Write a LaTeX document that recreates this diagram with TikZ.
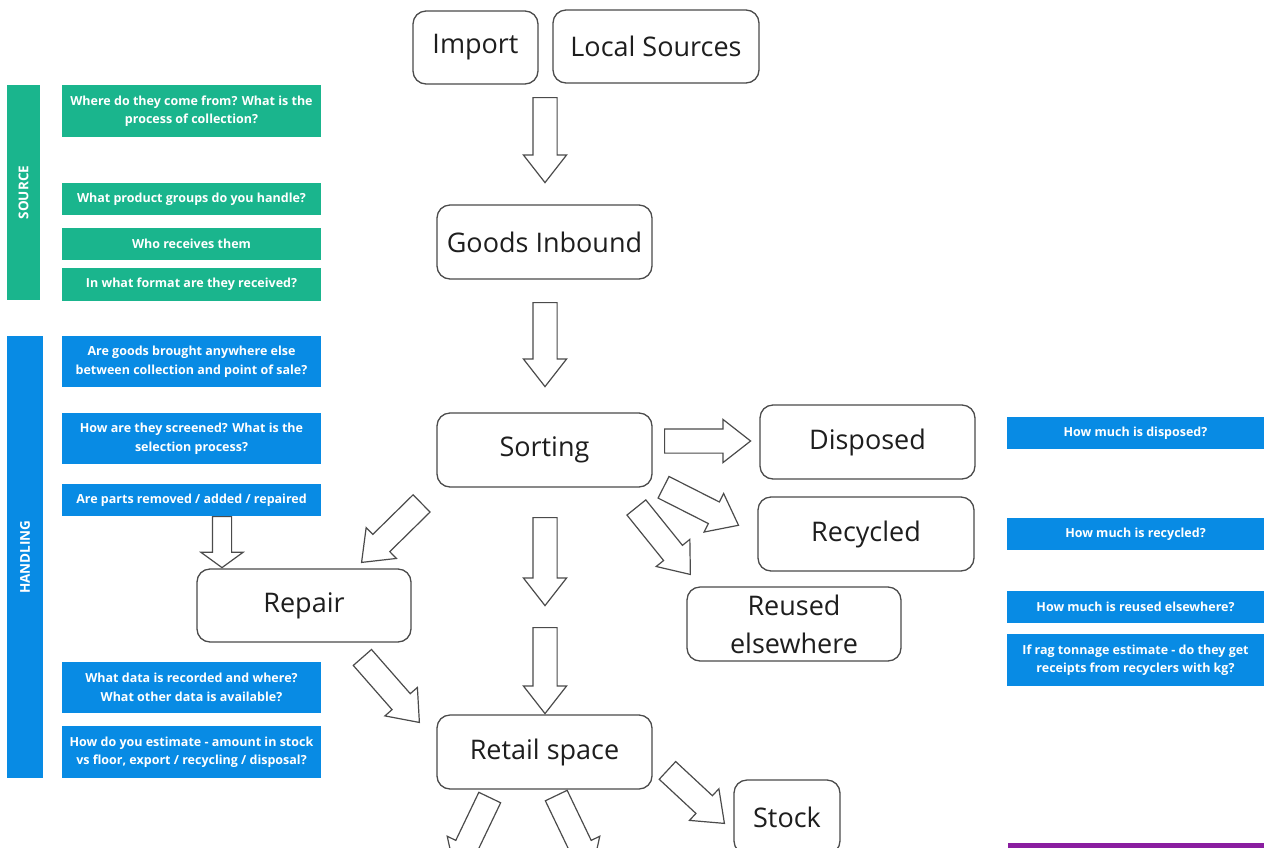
\documentclass[tikz,border=0pt]{standalone}
\usepackage{fontspec}
\setmainfont{Open Sans}
\usetikzlibrary{shapes.arrows,calc}

\definecolor{srcgreen}{RGB}{26,181,141}
\definecolor{handblue}{RGB}{8,139,228}
\definecolor{outpurple}{RGB}{138,30,160}
\definecolor{edgegray}{RGB}{75,75,75}
\definecolor{inkdark}{RGB}{30,30,30}

\tikzset{
  stage/.style={draw=edgegray, line width=1.3pt, rounded corners=13pt, fill=white,
    text=inkdark, align=center, inner sep=0pt,
    font=\fontsize{27}{38}\selectfont},
  qbox/.style={fill=#1, text=white, align=center, inner sep=0pt,
    font=\bfseries\fontsize{12.5}{18.5}\selectfont},
  sidebar/.style={fill=#1, text=white, inner sep=0pt,
    font=\bfseries\fontsize{13.5}{16}\selectfont},
  flow arrow/.style={single arrow, draw=edgegray, line width=1.2pt, fill=white,
    inner xsep=0pt, inner ysep=11.5pt, minimum width=42pt, single arrow head extend=9.5pt,
    single arrow tip angle=76, shape border uses incircle=false},
  short arrow/.style={inner ysep=9pt, minimum width=41pt, single arrow head extend=11.5pt,
    single arrow tip angle=108},
}

% hollow block arrow from one named point to another
\newcommand{\fatarrow}[3][]{%
  \path let \p1=(#2), \p2=(#3),
    \n1={atan2(\y2-\y1,\x2-\x1)}, \n2={veclen(\x2-\x1,\y2-\y1)} in
    node[flow arrow, #1, minimum height=\n2, rotate=\n1, anchor=tail] at (\p1) {};}

\begin{document}
\begin{tikzpicture}[x=1pt,y=-1pt]
\useasboundingbox (0,0) rectangle (1264,847);
\fill[white] (0,0) rectangle (1264,847);
\clip (0,0) rectangle (1264,847);

% ---- side bars ----
\node[sidebar=srcgreen, minimum width=33pt, minimum height=215pt] (src) at (23.5,192.5) {};
\node[text=white, font=\bfseries\fontsize{13.5}{16}\selectfont, rotate=90] (srclab) at (src.center) {SOURCE};
\node[sidebar=handblue, minimum width=36pt, minimum height=442pt] (hand) at (25,557) {};
\node[text=white, font=\bfseries\fontsize{13.5}{16}\selectfont, rotate=90] (handlab) at (hand.center) {HANDLING};

% ---- source questions ----
\node[qbox=srcgreen, minimum width=259pt, minimum height=52pt] (g1) at (191.5,111) {Where do they come from? What is the\\process of collection?};
\node[qbox=srcgreen, minimum width=259pt, minimum height=32pt] (g2) at (191.5,199) {What product groups do you handle?};
\node[qbox=srcgreen, minimum width=259pt, minimum height=32pt] (g3) at (191.5,244) {Who receives them};
\node[qbox=srcgreen, minimum width=259pt, minimum height=33pt] (g4) at (191.5,284.5) {In what format are they received?};

% ---- handling questions ----
\node[qbox=handblue, minimum width=259pt, minimum height=51pt] (b1) at (191.5,361.5) {Are goods brought anywhere else\\between collection and point of sale?};
\node[qbox=handblue, minimum width=259pt, minimum height=51pt] (b2) at (191.5,438.5) {How are they screened? What is the\\selection process?};
\node[qbox=handblue, minimum width=259pt, minimum height=32pt] (b3) at (191.5,500) {Are parts removed / added / repaired};
\node[qbox=handblue, minimum width=259pt, minimum height=51pt] (b4) at (191.5,687.5) {What data is recorded and where?\\What other data is available?};
\node[qbox=handblue, minimum width=259pt, minimum height=52pt] (b5) at (191.5,752) {How do you estimate - amount in stock\\vs floor, export / recycling / disposal?};

% ---- outcome questions ----
\node[qbox=handblue, minimum width=257pt, minimum height=32pt] (r1) at (1135.5,433) {How much is disposed?};
\node[qbox=handblue, minimum width=257pt, minimum height=32pt] (r2) at (1135.5,534) {How much is recycled?};
\node[qbox=handblue, minimum width=257pt, minimum height=32pt] (r3) at (1135.5,607) {How much is reused elsewhere?};
\node[qbox=handblue, minimum width=257pt, minimum height=52pt] (r4) at (1135.5,660) {If rag tonnage estimate - do they get\\receipts from recyclers with kg?};
\node[qbox=outpurple, minimum width=256pt, minimum height=30pt, anchor=north west] (p1) at (1008,843) {};

% ---- flow stages ----
\node[stage, minimum width=125pt, minimum height=73pt] (imp) at (475.5,47.5) {Import};
\node[stage, minimum width=206pt, minimum height=73pt] (loc) at (656,46.5) {Local Sources};
\node[stage, minimum width=215pt, minimum height=74pt] (inb) at (544.5,242) {Goods Inbound};
\node[stage, minimum width=215pt, minimum height=74pt] (sort) at (544.5,450) {Sorting};
\node[stage, minimum width=215pt, minimum height=74pt] (disp) at (867.5,442) {Disposed};
\node[stage, minimum width=216pt, minimum height=74pt] (recy) at (866,534) {Recycled};
\node[stage, minimum width=214pt, minimum height=74pt] (reuse) at (794,624) {Reused\\elsewhere};
\node[stage, minimum width=214pt, minimum height=73pt] (rep) at (304,605.5) {Repair};
\node[stage, minimum width=215pt, minimum height=74pt] (ret) at (544.5,752) {Retail space};
\node[stage, minimum width=106pt, minimum height=74pt] (stock) at (787,817) {Stock};

% ---- arrow end points ----
\coordinate (a1s) at (545,97);   \coordinate (a1e) at (545,182);
\coordinate (a2s) at (545,302);  \coordinate (a2e) at (545,386);
\coordinate (a3s) at (545,517);  \coordinate (a3e) at (545,605);
\coordinate (a4s) at (545,627);  \coordinate (a4e) at (545,713);
\coordinate (a5s) at (664,441);  \coordinate (a5e) at (750,441);
\coordinate (a6s) at (663,487);  \coordinate (a6e) at (738,525);
\coordinate (a7s) at (636,507);  \coordinate (a7e) at (690,574);
\coordinate (a8s) at (422,503);  \coordinate (a8e) at (362,562);
\coordinate (a9s) at (222,516);  \coordinate (a9e) at (222,567);
\coordinate (a10s) at (362,657); \coordinate (a10e) at (419,722);
\coordinate (a11s) at (667,770); \coordinate (a11e) at (724,823);
\coordinate (a12s) at (490,797); \coordinate (a12e) at (455,870);
\coordinate (a13s) at (556,795); \coordinate (a13e) at (592,870);

% ---- block arrows ----
\fatarrow{a1s}{a1e}
\fatarrow{a2s}{a2e}
\fatarrow{a3s}{a3e}
\fatarrow{a4s}{a4e}
\fatarrow{a5s}{a5e}
\fatarrow{a6s}{a6e}
\fatarrow{a7s}{a7e}
\fatarrow{a8s}{a8e}
\fatarrow[short arrow]{a9s}{a9e}
\fatarrow{a10s}{a10e}
\fatarrow{a11s}{a11e}
\fatarrow{a12s}{a12e}
\fatarrow{a13s}{a13e}
\end{tikzpicture}
\end{document}
